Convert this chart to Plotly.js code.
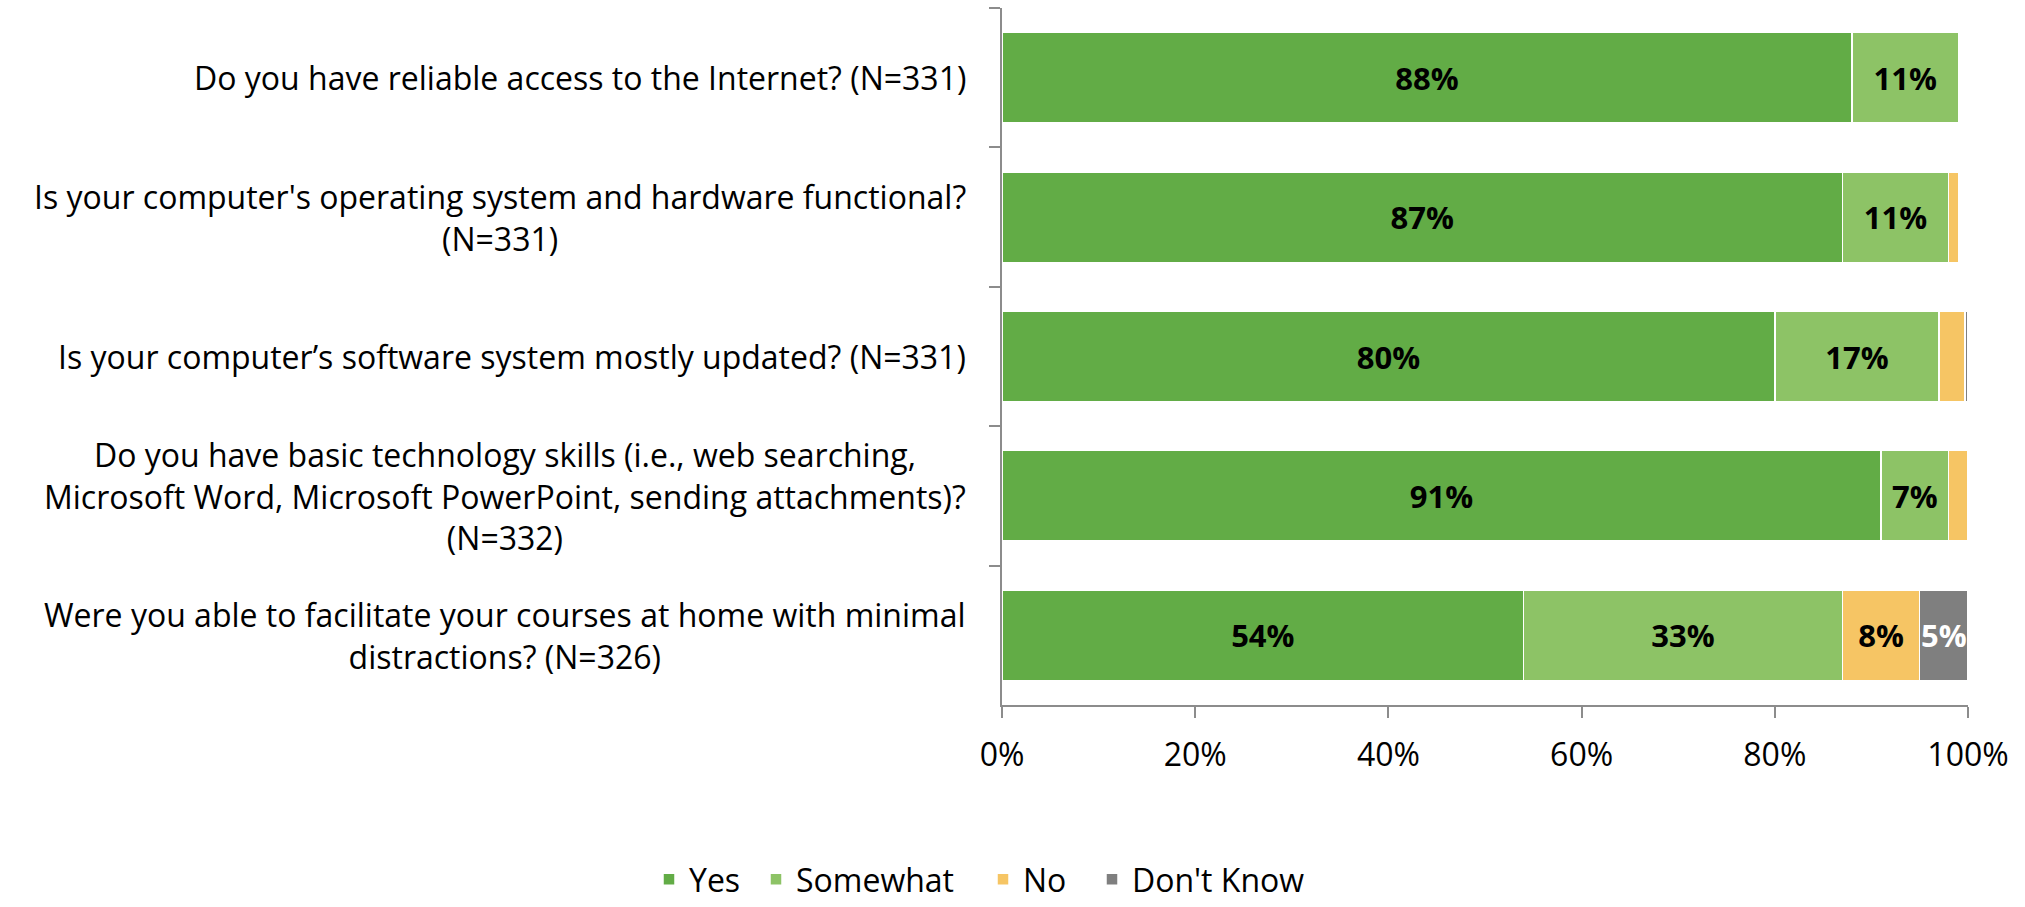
<!DOCTYPE html>
<html>
<head>
<meta charset="utf-8">
<script src="https://cdn.plot.ly/plotly-3.0.1.min.js"></script>
<style>html,body{margin:0;padding:0;background:#fff;}#chart{width:2025px;height:907px;}</style>
</head>
<body>
<div id="chart"></div>
<script>
const categories = [
  "Do you have reliable access to the Internet? (N=331)",
  "Is your computer's operating system and hardware functional?<br>(N=331)",
  "Is your computer\u2019s software system mostly updated? (N=331)",
  "Do you have basic technology skills (i.e., web searching,<br>Microsoft Word, Microsoft PowerPoint, sending attachments)?<br>(N=332)",
  "Were you able to facilitate your courses at home with minimal<br>distractions? (N=326)"
];
const seriesNames = ["Yes", "Somewhat", "No", "Don't Know"];
const yesValues = [88, 87, 80, 91, 54];
const somewhatValues = [11, 11, 17, 7, 33];
const noValues = [0, 1, 2.7, 2, 8];
const dontKnowValues = [0, 0, 0.3, 0, 5];
const seriesColors = ["#62AC46", "#8DC366", "#F6C564", "#7F7F7F"];
const labelColors = ["#000000", "#000000", "#000000", "#FFFFFF"];
const xTickVals = [0, 20, 40, 60, 80, 100];
const xTickText = ["0%", "20%", "40%", "60%", "80%", "100%"];

const FONT = "Open Sans, sans-serif";
const FS = 32;
const allValues = [yesValues, somewhatValues, noValues, dontKnowValues];
const legendIds = ["legend", "legend2", "legend3", "legend4"];
const legendX = [649, 756, 983, 1092];

const traces = allValues.map((vals, i) => ({
  type: "bar",
  orientation: "h",
  name: seriesNames[i],
  legend: legendIds[i],
  y: categories,
  x: vals,
  text: vals.map(v => v >= 5 ? Math.round(v) + "%" : ""),
  texttemplate: "%{text}",
  textposition: "inside",
  insidetextanchor: "middle",
  textangle: 0,
  constraintext: "none",
  textfont: {family: FONT, size: 31, color: labelColors[i], weight: "bold"},
  marker: {color: seriesColors[i], line: {color: "#FFFFFF", width: 1.5}},
  hoverinfo: "skip"
}));

const annotations = categories.map(c => ({
  xref: "paper", yref: "y",
  x: 0, y: c,
  xanchor: "right", yanchor: "middle",
  xshift: -34,
  text: c,
  align: "center",
  showarrow: false,
  font: {family: FONT, size: FS, color: "#000"}
}));

const layout = {
  width: 2025, height: 907,
  margin: {l: 1002, r: 57, t: 8, b: 202, pad: 0},
  barmode: "stack",
  bargap: 0.35,
  showlegend: true,
  paper_bgcolor: "#fff",
  plot_bgcolor: "#fff",
  font: {family: FONT, size: FS, color: "#000"},
  xaxis: {
    range: [0, 100],
    tickvals: xTickVals,
    ticktext: xTickText,
    ticks: "outside", ticklen: 11, tickwidth: 2, tickcolor: "#8C8C8C",
    showline: true, linecolor: "#8C8C8C", linewidth: 2,
    showgrid: false, zeroline: false,
    tickfont: {family: FONT, size: FS, color: "#000"},
    ticklabelstandoff: 10,
    fixedrange: true
  },
  yaxis: {
    type: "category",
    autorange: "reversed",
    showticklabels: false,
    ticks: "outside", ticklen: 11, tickwidth: 2, tickcolor: "#8C8C8C",
    tickson: "boundaries",
    showline: true, linecolor: "#8C8C8C", linewidth: 2,
    showgrid: false, zeroline: false,
    fixedrange: true
  },
  annotations: annotations
};

legendIds.forEach((id, i) => {
  layout[id] = {
    orientation: "h",
    xref: "container", yref: "container",
    x: legendX[i] / 2025, y: -0.011,
    xanchor: "left", yanchor: "bottom",
    font: {family: FONT, size: FS, color: "#000"},
    bgcolor: "rgba(0,0,0,0)",
    itemwidth: 30
  };
});

Plotly.newPlot("chart", traces, layout, {displayModeBar: false, staticPlot: true});
</script>
</body>
</html>
